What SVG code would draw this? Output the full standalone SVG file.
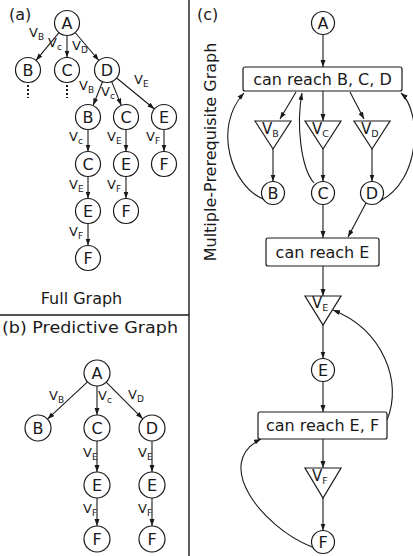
<svg xmlns="http://www.w3.org/2000/svg" width="413" height="556" viewBox="0 0 413 556">
  <style>
    text { font-family: "DejaVu Sans", "Liberation Sans", sans-serif; fill: #1a1a1a; }
    .node circle { fill: #fff; stroke: #1a1a1a; stroke-width: 1.2; }
    .node rect { fill: #fff; stroke: #1a1a1a; stroke-width: 1.2; }
    .node polygon { fill: #fff; stroke: #1a1a1a; stroke-width: 1.2; }
    .lbl { font-size: 16px; text-anchor: middle; }
    .box { font-size: 16px; text-anchor: middle; }
    .title { font-size: 16px; }
    .v { font-size: 13px; }
    .sub { font-size: 9px; }
    .tv { font-size: 15px; }
    .tsub { font-size: 9.5px; }
    .edges path, .edges line { stroke: #1a1a1a; stroke-width: 1.1; fill: none; marker-end: url(#arr); }
    .frame { stroke: #1a1a1a; stroke-width: 1.4; }
    .dots { stroke: #1a1a1a; stroke-width: 2; stroke-dasharray: 2 2; }
  </style>
  <defs>
    <marker id="arr" markerUnits="userSpaceOnUse" markerWidth="8" markerHeight="6" refX="7" refY="2.5" orient="auto">
      <path d="M0,0 L7,2.5 L0,5 Z" fill="#1a1a1a"/>
    </marker>
  </defs>

  <!-- panel frames -->
  <line class="frame" x1="189" y1="0" x2="189" y2="556"/>
  <line class="frame" x1="0" y1="315" x2="189" y2="315"/>

  <!-- panel titles -->
  <text class="title" x="9" y="20">(a)</text>
  <text class="title" x="81.5" y="304" text-anchor="middle">Full Graph</text>
  <text class="title" x="2" y="333" textLength="176" lengthAdjust="spacingAndGlyphs">(b) Predictive Graph</text>
  <text class="title" x="197" y="20">(c)</text>
  <text class="title" transform="translate(215.5,152) rotate(-90)" text-anchor="middle" font-size="17">Multiple-Prerequisite Graph</text>

  <!-- connectors -->
  <g class="edges" id="edges">
    <!-- (a) full graph -->
    <line x1="59" y1="32.6" x2="36" y2="60.4"/>
    <line x1="67" y1="35.5" x2="67" y2="57.5"/>
    <line x1="75.1" y1="32.5" x2="98.9" y2="60.5"/>
    <line x1="102.5" y1="81.7" x2="93.2" y2="105.3"/>
    <line x1="111.7" y1="81.6" x2="121.3" y2="105.4"/>
    <line x1="116.6" y1="78" x2="154.4" y2="109"/>
    <line x1="88" y1="129.5" x2="88" y2="151.5"/>
    <line x1="126" y1="129.5" x2="126" y2="151.5"/>
    <line x1="164" y1="129.5" x2="164" y2="151.5"/>
    <line x1="88" y1="176.5" x2="88" y2="198.5"/>
    <line x1="126" y1="176.5" x2="126" y2="198.5"/>
    <line x1="88" y1="223.5" x2="88" y2="245.5"/>
    <!-- (b) predictive graph -->
    <line x1="87.5" y1="381.9" x2="47.5" y2="419.1"/>
    <line x1="97" y1="386" x2="97" y2="415"/>
    <line x1="106.2" y1="382.2" x2="142.8" y2="418.8"/>
    <line x1="97" y1="441" x2="97" y2="472"/>
    <line x1="152" y1="441" x2="152" y2="472"/>
    <line x1="97" y1="498" x2="97" y2="526"/>
    <line x1="152" y1="498" x2="152" y2="526"/>
    <!-- (c) multiple-prerequisite graph -->
    <line x1="323" y1="34.5" x2="323" y2="67"/>
    <line x1="296" y1="92" x2="280" y2="119"/>
    <line x1="323" y1="91" x2="323" y2="121"/>
    <line x1="350" y1="92" x2="364" y2="119"/>
    <line x1="273" y1="149" x2="273" y2="181.5"/>
    <line x1="323" y1="149" x2="323" y2="181.5"/>
    <line x1="372" y1="149" x2="372" y2="181.5"/>
    <path d="M263,199 C232,186 212,128 244,93"/>
    <path d="M314,183 C301,168 296,125 302,93"/>
    <path d="M380,201 C421,180 422,112 401,93"/>
    <line x1="366" y1="203" x2="348" y2="237"/>
    <line x1="323" y1="204.5" x2="323" y2="238"/>
    <line x1="323" y1="266" x2="323" y2="296"/>
    <line x1="323" y1="325" x2="323" y2="358.5"/>
    <line x1="323" y1="381.5" x2="323" y2="412"/>
    <path d="M387,420 C403,382 383,330 333,310"/>
    <line x1="323" y1="439" x2="323" y2="468"/>
    <line x1="323" y1="498" x2="323" y2="530.5"/>
    <path d="M312,547 C262,527 212,463 261,439"/>
  </g>

  <!-- (a) nodes -->
  <g id="a-A" class="node"><circle cx="67" cy="23" r="12.5"/><text class="lbl" x="67" y="28.8">A</text></g>
  <g id="a-B" class="node"><circle cx="28" cy="70" r="12.5"/><text class="lbl" x="28" y="75.8">B</text></g>
  <g id="a-C" class="node"><circle cx="67" cy="70" r="12.5"/><text class="lbl" x="67" y="75.8">C</text></g>
  <g id="a-D" class="node"><circle cx="107" cy="70" r="12.5"/><text class="lbl" x="107" y="75.8">D</text></g>
  <g id="a-B-more"><line class="dots" x1="28" y1="85" x2="28" y2="98"/></g>
  <g id="a-C-more"><line class="dots" x1="67" y1="85" x2="67" y2="98"/></g>
  <g id="a-DB" class="node"><circle cx="88" cy="117" r="12.5"/><text class="lbl" x="88" y="122.8">B</text></g>
  <g id="a-DC" class="node"><circle cx="126" cy="117" r="12.5"/><text class="lbl" x="126" y="122.8">C</text></g>
  <g id="a-DE" class="node"><circle cx="164" cy="117" r="12.5"/><text class="lbl" x="164" y="122.8">E</text></g>
  <g id="a-DBC" class="node"><circle cx="88" cy="164" r="12.5"/><text class="lbl" x="88" y="169.8">C</text></g>
  <g id="a-DCE" class="node"><circle cx="126" cy="164" r="12.5"/><text class="lbl" x="126" y="169.8">E</text></g>
  <g id="a-DEF" class="node"><circle cx="164" cy="164" r="12.5"/><text class="lbl" x="164" y="169.8">F</text></g>
  <g id="a-DBCE" class="node"><circle cx="88" cy="211" r="12.5"/><text class="lbl" x="88" y="216.8">E</text></g>
  <g id="a-DCEF" class="node"><circle cx="126" cy="211" r="12.5"/><text class="lbl" x="126" y="216.8">F</text></g>
  <g id="a-DBCEF" class="node"><circle cx="88" cy="258" r="12.5"/><text class="lbl" x="88" y="263.8">F</text></g>

  <!-- (a) edge labels -->
  <g id="a-labels">
    <text class="v" x="29" y="37">V<tspan class="sub" dy="3">B</tspan></text>
    <text class="v" x="48" y="47">V<tspan class="sub" dy="3">c</tspan></text>
    <text class="v" x="72" y="50">V<tspan class="sub" dy="3">D</tspan></text>
    <text class="v" x="79" y="90">V<tspan class="sub" dy="3">B</tspan></text>
    <text class="v" x="101" y="96">V<tspan class="sub" dy="3">c</tspan></text>
    <text class="v" x="134" y="84">V<tspan class="sub" dy="3">E</tspan></text>
    <text class="v" x="69" y="141">V<tspan class="sub" dy="3">c</tspan></text>
    <text class="v" x="107" y="141">V<tspan class="sub" dy="3">E</tspan></text>
    <text class="v" x="146" y="141">V<tspan class="sub" dy="3">F</tspan></text>
    <text class="v" x="69" y="189">V<tspan class="sub" dy="3">E</tspan></text>
    <text class="v" x="107" y="189">V<tspan class="sub" dy="3">F</tspan></text>
    <text class="v" x="69" y="236">V<tspan class="sub" dy="3">F</tspan></text>
  </g>

  <!-- (b) nodes -->
  <g id="b-A" class="node"><circle cx="97" cy="373" r="13"/><text class="lbl" x="97" y="378.8">A</text></g>
  <g id="b-B" class="node"><circle cx="38" cy="428" r="13"/><text class="lbl" x="38" y="433.8">B</text></g>
  <g id="b-C" class="node"><circle cx="97" cy="428" r="13"/><text class="lbl" x="97" y="433.8">C</text></g>
  <g id="b-D" class="node"><circle cx="152" cy="428" r="13"/><text class="lbl" x="152" y="433.8">D</text></g>
  <g id="b-CE" class="node"><circle cx="97" cy="485" r="13"/><text class="lbl" x="97" y="490.8">E</text></g>
  <g id="b-DE" class="node"><circle cx="152" cy="485" r="13"/><text class="lbl" x="152" y="490.8">E</text></g>
  <g id="b-CEF" class="node"><circle cx="97" cy="539" r="13"/><text class="lbl" x="97" y="544.8">F</text></g>
  <g id="b-DEF" class="node"><circle cx="152" cy="539" r="13"/><text class="lbl" x="152" y="544.8">F</text></g>

  <!-- (b) edge labels -->
  <g id="b-labels">
    <text class="v" x="49" y="400">V<tspan class="sub" dy="3">B</tspan></text>
    <text class="v" x="98" y="400">V<tspan class="sub" dy="3">c</tspan></text>
    <text class="v" x="128" y="399">V<tspan class="sub" dy="3">D</tspan></text>
    <text class="v" x="83" y="457">V<tspan class="sub" dy="3">E</tspan></text>
    <text class="v" x="138" y="457">V<tspan class="sub" dy="3">E</tspan></text>
    <text class="v" x="83" y="513">V<tspan class="sub" dy="3">F</tspan></text>
    <text class="v" x="138" y="513">V<tspan class="sub" dy="3">F</tspan></text>
  </g>

  <!-- (c) nodes -->
  <g id="c-A" class="node"><circle cx="323" cy="23" r="11.5"/><text class="lbl" x="323" y="28.8">A</text></g>
  <g id="c-reachBCD" class="node"><rect x="243" y="67" width="159" height="24" rx="2"/><text class="box" x="322.5" y="84.5">can reach B, C, D</text></g>
  <g id="c-VB" class="node"><polygon points="255,121 291,121 273,149"/><text class="tv" x="262" y="134">V<tspan class="tsub" dy="2.5">B</tspan></text></g>
  <g id="c-VC" class="node"><polygon points="305,121 341,121 323,149"/><text class="tv" x="312" y="134">V<tspan class="tsub" dy="2.5">C</tspan></text></g>
  <g id="c-VD" class="node"><polygon points="354,121 390,121 372,149"/><text class="tv" x="361" y="134">V<tspan class="tsub" dy="2.5">D</tspan></text></g>
  <g id="c-B" class="node"><circle cx="273" cy="193" r="11.5"/><text class="lbl" x="273" y="198.8">B</text></g>
  <g id="c-C" class="node"><circle cx="323" cy="193" r="11.5"/><text class="lbl" x="323" y="198.8">C</text></g>
  <g id="c-D" class="node"><circle cx="372" cy="193" r="11.5"/><text class="lbl" x="372" y="198.8">D</text></g>
  <g id="c-reachE" class="node"><rect x="266" y="238" width="113" height="28" rx="2"/><text class="box" x="322.5" y="257.5">can reach E</text></g>
  <g id="c-VE" class="node"><polygon points="305,296 341,296 323,325"/><text class="tv" x="312" y="308">V<tspan class="tsub" dy="2.5">E</tspan></text></g>
  <g id="c-E" class="node"><circle cx="323" cy="370" r="11.5"/><text class="lbl" x="323" y="375.8">E</text></g>
  <g id="c-reachEF" class="node"><rect x="258" y="412" width="129" height="27" rx="2"/><text class="box" x="322.5" y="431">can reach E, F</text></g>
  <g id="c-VF" class="node"><polygon points="305,468 341,468 323,498"/><text class="tv" x="312" y="481">V<tspan class="tsub" dy="2.5">F</tspan></text></g>
  <g id="c-F" class="node"><circle cx="323" cy="542" r="11.5"/><text class="lbl" x="323" y="547.8">F</text></g>
</svg>
